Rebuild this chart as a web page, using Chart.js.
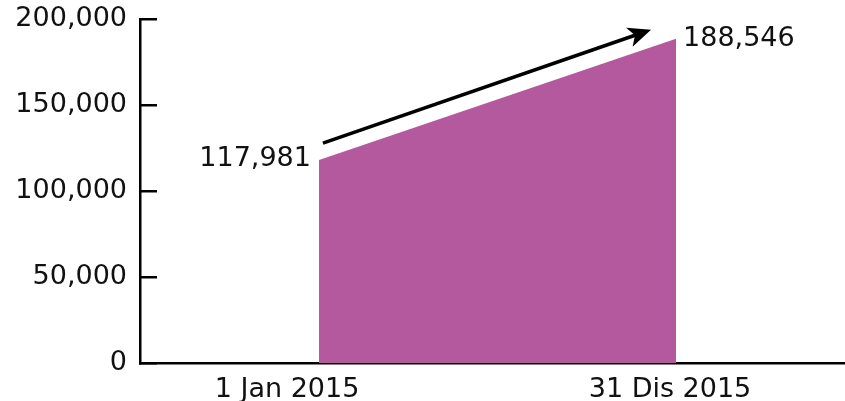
<!DOCTYPE html>
<html>
<head>
<meta charset="utf-8">
<script src="https://cdn.jsdelivr.net/npm/chart.js@4/dist/chart.umd.min.js"></script>
<style>
  html, body { margin: 0; padding: 0; background: #fff; }
  #wrap { width: 845px; height: 401px; position: relative; }
</style>
</head>
<body>
<div id="wrap"><canvas id="chart"></canvas></div>
<script>
// data
const dateLabels = ["1 Jan 2015", "31 Dis 2015"];
const positions = [0, 1];
const visitors = [117981, 188546];
const yTicks = [0, 50000, 100000, 150000, 200000];

const FONT = "'DejaVu Sans', sans-serif";
const FONT_SIZE = 27;
const INK = "#111";
const FILL = "#b5599f";

const fmt = (v) => Number(v).toLocaleString("en-US");

// labels at both ends of the area plus the rising arrow above it
const annotate = {
  id: "annotate",
  afterDatasetsDraw(chart) {
    const meta = chart.getDatasetMeta(0);
    if (!meta.data.length) return;
    const p0 = meta.data[0];
    const p1 = meta.data[meta.data.length - 1];
    const ctx = chart.ctx;
    ctx.save();
    ctx.fillStyle = INK;
    ctx.font = `${FONT_SIZE}px ${FONT}`;
    ctx.textBaseline = "middle";
    ctx.textAlign = "right";
    ctx.fillText(fmt(visitors[0]), p0.x - 8, p0.y - 1);
    ctx.textAlign = "left";
    ctx.fillText(fmt(visitors[visitors.length - 1]), p1.x + 7, p1.y);

    const sx = p0.x + 4, sy = p0.y - 17;
    const ex = p1.x - 25, ey = p1.y - 9;
    const ang = Math.atan2(ey - sy, ex - sx);
    const head = 23, half = 10;
    const cos = Math.cos(ang), sin = Math.sin(ang);
    const bx = ex - head * cos, by = ey - head * sin;
    ctx.strokeStyle = "#000";
    ctx.fillStyle = "#000";
    ctx.lineWidth = 3.5;
    ctx.beginPath();
    ctx.moveTo(sx, sy);
    ctx.lineTo(bx + 6 * cos, by + 6 * sin);
    ctx.stroke();
    ctx.beginPath();
    ctx.moveTo(ex, ey);
    ctx.lineTo(bx + half * sin, by - half * cos);
    ctx.lineTo(bx + 6 * cos, by + 6 * sin);
    ctx.lineTo(bx - half * sin, by + half * cos);
    ctx.closePath();
    ctx.fill();
    ctx.restore();
  },
};

new Chart(document.getElementById("chart"), {
  type: "line",
  data: {
    datasets: [{
      data: positions.map((x, i) => ({ x, y: visitors[i] })),
      xAxisID: "xData",
      yAxisID: "y",
      borderWidth: 0,
      borderColor: FILL,
      backgroundColor: FILL,
      fill: "origin",
      tension: 0,
      pointRadius: 0,
    }],
  },
  options: {
    responsive: true,
    maintainAspectRatio: false,
    animation: false,
    events: [],
    layout: { padding: { top: 19, right: 0, bottom: 0, left: 0 } },
    plugins: { legend: { display: false }, tooltip: { enabled: false } },
    scales: {
      xData: {
        type: "linear",
        display: false,
        min: -0.501,
        max: 1.473,
      },
      x: {
        type: "linear",
        position: "bottom",
        min: -0.384,
        max: 1.457,
        afterBuildTicks: (scale) => { scale.ticks = positions.map((v) => ({ value: v })); },
        afterFit: (scale) => {
          scale.height = 38;
          scale.paddingLeft = 0;
          scale.paddingRight = 0;
        },
        border: { display: true, color: "#000", width: 2.5 },
        grid: { drawOnChartArea: false, drawTicks: false },
        ticks: {
          color: INK,
          font: { family: FONT, size: FONT_SIZE },
          padding: 11,
          maxRotation: 0,
          autoSkip: false,
          callback: (v, i) => dateLabels[i],
        },
      },
      y: {
        min: 0,
        max: 200000,
        afterBuildTicks: (scale) => { scale.ticks = yTicks.map((v) => ({ value: v })); },
        afterFit: (scale) => {
          scale.width = 140;
          scale.paddingTop = 0;
          scale.paddingBottom = 0;
        },
        border: { display: true, color: "#000", width: 2.5 },
        grid: {
          drawOnChartArea: false,
          drawTicks: true,
          tickLength: -17,
          color: "#000",
          lineWidth: 2.5,
        },
        ticks: {
          color: INK,
          font: { family: FONT, size: FONT_SIZE },
          padding: 30,
          callback: (v) => fmt(v),
        },
      },
    },
  },
  plugins: [annotate],
});
</script>
</body>
</html>
